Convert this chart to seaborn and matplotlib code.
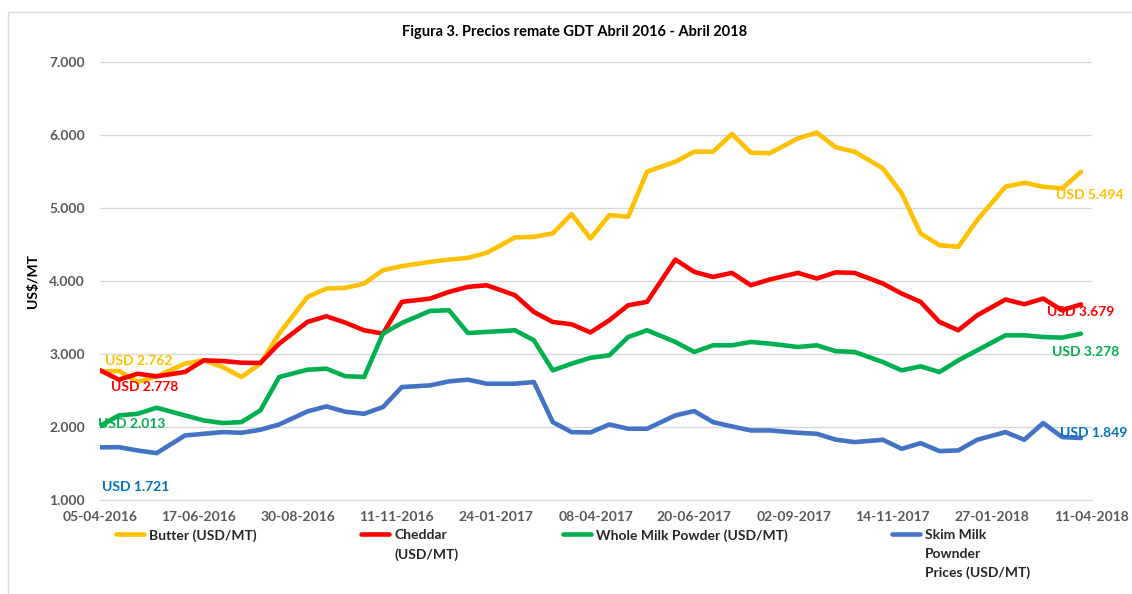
import pandas as pd
import matplotlib.pyplot as plt
import matplotlib.ticker as mticker
from matplotlib.patches import Rectangle
from matplotlib.offsetbox import HPacker
import seaborn as sns

# GDT auction dates (1st and 3rd Tuesday of each month)
dates = ['2016-04-05', '2016-04-19', '2016-05-03', '2016-05-17', '2016-06-07', '2016-06-21',
         '2016-07-05', '2016-07-19', '2016-08-02', '2016-08-16', '2016-09-06', '2016-09-20',
         '2016-10-04', '2016-10-18', '2016-11-01', '2016-11-15', '2016-12-06', '2016-12-20',
         '2017-01-03', '2017-01-17', '2017-02-07', '2017-02-21', '2017-03-07', '2017-03-21',
         '2017-04-04', '2017-04-18', '2017-05-02', '2017-05-16', '2017-06-06', '2017-06-20',
         '2017-07-04', '2017-07-18', '2017-08-01', '2017-08-15', '2017-09-05', '2017-09-19',
         '2017-10-03', '2017-10-17', '2017-11-07', '2017-11-21', '2017-12-05', '2017-12-19',
         '2018-01-02', '2018-01-16', '2018-02-06', '2018-02-20', '2018-03-06', '2018-03-20',
         '2018-04-03']

butter = [2762, 2767, 2616, 2694, 2867, 2913, 2822, 2685, 2867, 3279, 3782, 3896, 3905,
          3965, 4148, 4203, 4262, 4294, 4317, 4386, 4596, 4605, 4651, 4916, 4582, 4902,
          4880, 5497, 5634, 5771, 5771, 6014, 5758, 5749, 5954, 6032, 5831, 5771, 5543,
          5200, 4651, 4491, 4468, 4834, 5291, 5346, 5291, 5268, 5494]
cheddar = [2778, 2648, 2730, 2694, 2753, 2913, 2904, 2881, 2877, 3142, 3439, 3517, 3430,
           3325, 3279, 3714, 3759, 3851, 3919, 3942, 3805, 3576, 3439, 3407, 3295, 3462,
           3668, 3714, 4294, 4125, 4056, 4111, 3942, 4020, 4111, 4034, 4118, 4111, 3965,
           3828, 3714, 3439, 3325, 3530, 3746, 3682, 3759, 3599, 3679]
wmp = [2013, 2159, 2181, 2264, 2159, 2090, 2054, 2067, 2227, 2685, 2785, 2799, 2696,
       2685, 3279, 3425, 3590, 3599, 3288, 3302, 3325, 3188, 2776, 2867, 2948, 2982,
       3233, 3325, 3165, 3028, 3119, 3119, 3165, 3142, 3096, 3119, 3039, 3028, 2890,
       2776, 2831, 2753, 2913, 3050, 3256, 3256, 3233, 3224, 3278]
smp = [1721, 1724, 1678, 1642, 1884, 1907, 1930, 1921, 1962, 2035, 2214, 2282, 2209,
       2181, 2273, 2547, 2570, 2625, 2648, 2593, 2593, 2616, 2067, 1930, 1925, 2035,
       1976, 1976, 2159, 2218, 2067, 2008, 1953, 1953, 1921, 1907, 1827, 1793, 1825,
       1701, 1779, 1670, 1679, 1825, 1930, 1825, 2054, 1862, 1849]

products = ['Butter (USD/MT)', 'Cheddar\n(USD/MT)', 'Whole Milk Powder (USD/MT)',
            'Skim Milk\nPownder\nPrices (USD/MT)']
line_colors = ['#FFC000', '#FF0000', '#00B050', '#4472C4']
label_colors = ['#FFC000', '#FF0000', '#00B050', '#0070C0']
tick_labels = ['05-04-2016', '17-06-2016', '30-08-2016', '11-11-2016', '24-01-2017',
               '08-04-2017', '20-06-2017', '02-09-2017', '14-11-2017', '27-01-2018',
               '11-04-2018']

# long format table for seaborn
frames = []
for name, vals in zip(products, [butter, cheddar, wmp, smp]):
    frames.append(pd.DataFrame({'date': pd.to_datetime(dates), 'price': vals, 'product': name}))
df = pd.concat(frames, ignore_index=True)

sns.set_style('white')
plt.rcParams['font.family'] = ['Lato', 'DejaVu Sans']
plt.rcParams['font.weight'] = 'bold'

fig = plt.figure(figsize=(11.32, 5.94), dpi=100)
ax = fig.add_axes([100 / 1132, 1 - 500 / 594, 991.7 / 1132, 438 / 594])

sns.lineplot(data=df, x='date', y='price', hue='product', palette=line_colors,
             linewidth=3.3, legend=False, ax=ax, sort=False)
for ln in ax.get_lines():
    ln.set_solid_joinstyle('round')
    ln.set_solid_capstyle('round')

# axes styling
ax.set_ylim(1000, 7000)
ax.set_yticks(range(1000, 7001, 1000))
ax.yaxis.set_major_formatter(mticker.FuncFormatter(lambda v, p: f'{v:,.0f}'.replace(',', '.')))
tick_dates = pd.to_datetime(tick_labels, format='%d-%m-%Y')
ax.set_xlim(tick_dates[0], tick_dates[-1])
ax.set_xticks(tick_dates)
ax.set_xticklabels(tick_labels)
ax.grid(axis='y', color='#d9d9d9', linewidth=1)
ax.grid(axis='x', visible=False)
for s in ['left', 'top', 'right']:
    ax.spines[s].set_visible(False)
ax.spines['bottom'].set_color('#d9d9d9')
ax.tick_params(axis='x', colors='#d9d9d9', length=5, width=1, direction='out', pad=3,
               labelcolor='#595959', labelsize=10)
ax.tick_params(axis='y', length=0, pad=11, labelcolor='#595959', labelsize=10)
for t in ax.get_xticklabels() + ax.get_yticklabels():
    t.set_fontweight('bold')
ax.set_xlabel('')
ax.set_ylabel('US$/MT', fontsize=10, fontweight='bold', color='black', labelpad=7)

# value labels at first and last auction
first_off = [(3.6, 7.6), (7.9, -12), (-1.4, 1.6), (1.4, -28.5)]
last_off = [(-18, -16.3), (-24.5, -5.3), (-20.9, -13), (-15, 3.6)]
d0, d1 = pd.to_datetime(dates[0]), pd.to_datetime(dates[-1])
for vals, c, fo, lo in zip([butter, cheddar, wmp, smp], label_colors, first_off, last_off):
    for d, v, off in [(d0, vals[0], fo), (d1, vals[-1], lo)]:
        ax.annotate(f'USD {v/1000:.3f}', xy=(d, v), xytext=off, textcoords='offset points',
                    ha='left', va='center', color=c, fontsize=10, fontweight='bold')

fig.text(575 / 1132, 1 - 32 / 594, 'Figura 3. Precios remate GDT Abril 2016 - Abril 2018',
         ha='center', va='center', fontsize=10.5, fontweight='bold', color='black')

leg = fig.legend(ax.get_lines(), products, loc='upper left',
                 bbox_to_anchor=(116 / 1132, 1 - 529 / 594), ncol=4, frameon=False,
                 fontsize=10, handlelength=2.0, handletextpad=0.4, columnspacing=7.5,
                 borderpad=0, borderaxespad=0)
for t in leg.get_texts():
    t.set_fontweight('bold')
    t.set_linespacing(1.65)
for hp in leg.findobj(HPacker):
    hp.align = 'top'

# outer chart border
fig.patches.append(Rectangle((8 / 1132, -0.05), 1.2, 1 - 12 / 594 + 0.05, transform=fig.transFigure,
                             fill=False, edgecolor='#d9d9d9', linewidth=1))

fig.savefig('out.png', dpi=100)
